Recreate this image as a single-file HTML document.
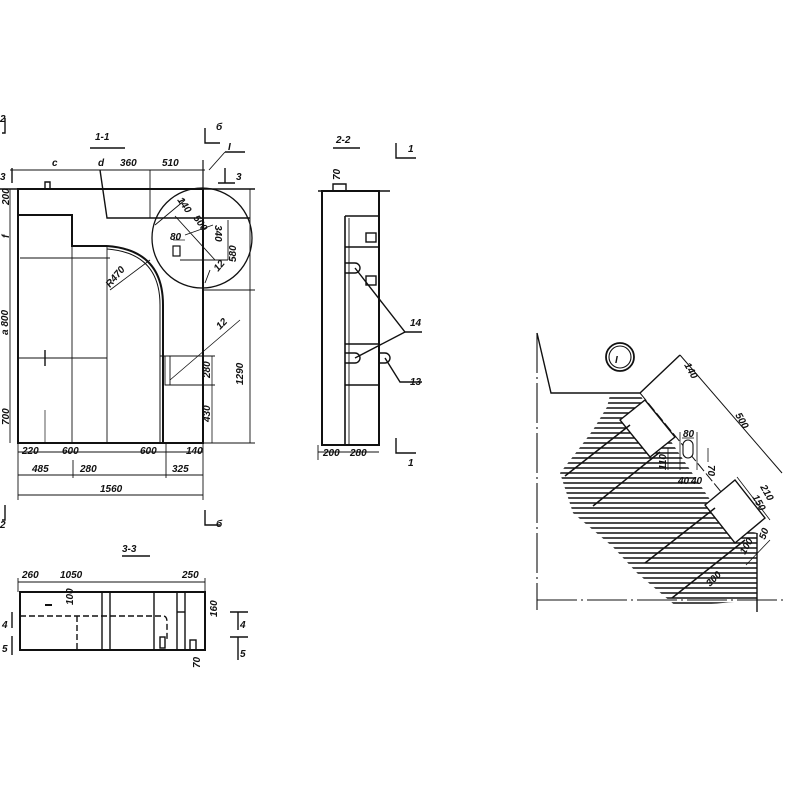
<!DOCTYPE html>
<html><head><meta charset="utf-8"><style>
html,body{margin:0;padding:0;background:#fff;width:800px;height:800px;overflow:hidden}
svg{display:block}
text{font-family:"Liberation Sans",sans-serif;font-style:italic;font-size:10px;fill:#111;font-weight:600}
</style></head><body>
<svg width="800" height="800" viewBox="0 0 800 800" xmlns="http://www.w3.org/2000/svg">
<defs>
<clipPath id="blob"><polygon points="610,395 640,395 727,525 757,533 757,600 677,607 637,573 613,547 573,513 560,473 578,450 593,430 607,407"/></clipPath>
</defs>
<g stroke="#111" fill="none" stroke-width="1.4">
<line x1="90" y1="148" x2="125" y2="148" stroke-width="1.5"/>
<rect x="18" y="189" width="185" height="254" stroke-width="2"/>
<polyline points="18,215 72,215 72,246 107,246" stroke-width="2"/>
<path d="M107,246 Q163,250 163,305 L163,443" stroke-width="2"/>
<path d="M107,249 Q160,253 160,305 L160,443" stroke-width="1"/>
<polyline points="100,170 107,218 250,218" stroke-width="1.4"/>
<line x1="0" y1="189" x2="255" y2="189"/>
<line x1="10" y1="170" x2="205" y2="170" stroke-width="0.9"/>
<line x1="107" y1="246" x2="107" y2="443" stroke-width="0.9"/>
<line x1="72" y1="246" x2="72" y2="443" stroke-width="0.9"/>
<line x1="150" y1="170" x2="150" y2="218" stroke-width="0.9"/>
<line x1="203" y1="160" x2="203" y2="443" stroke-width="1.2"/>
<line x1="20" y1="258" x2="110" y2="258" stroke-width="0.9"/>
<line x1="18" y1="358" x2="107" y2="358" stroke-width="0.9"/>
<line x1="45" y1="350" x2="45" y2="366"/>
<line x1="45" y1="410" x2="45" y2="443" stroke-width="0.7"/>
<line x1="160" y1="356" x2="215" y2="356" stroke-width="0.9"/>
<line x1="165" y1="385" x2="215" y2="385" stroke-width="0.9"/>
<rect x="165" y="356" width="5" height="29" stroke-width="0.9"/>
<line x1="170" y1="380" x2="240" y2="320" stroke-width="0.8"/>
<line x1="212" y1="356" x2="212" y2="443" stroke-width="0.8"/>
<line x1="110" y1="290" x2="150" y2="260" stroke-width="0.9"/>
<circle cx="202" cy="238" r="50" stroke-width="1.3"/>
<line x1="250" y1="189" x2="250" y2="443" stroke-width="0.9"/>
<line x1="203" y1="290" x2="255" y2="290" stroke-width="0.9"/>
<line x1="203" y1="443" x2="255" y2="443" stroke-width="0.9"/>
<line x1="175" y1="216" x2="215" y2="260" stroke-width="0.9"/>
<line x1="155" y1="225" x2="185" y2="200" stroke-width="0.9"/>
<line x1="180" y1="260" x2="228" y2="260" stroke-width="0.9"/>
<line x1="228" y1="220" x2="228" y2="260" stroke-width="0.9"/>
<rect x="173" y="246" width="7" height="10" stroke-width="1.2"/>
<line x1="173" y1="240" x2="185" y2="240" stroke-width="0.7"/>
<line x1="185" y1="235" x2="213" y2="225" stroke-width="0.7"/>
<line x1="210" y1="270" x2="205" y2="283" stroke-width="0.9"/>
<line x1="209" y1="170" x2="225" y2="152" stroke-width="0.9"/>
<line x1="225" y1="152" x2="245" y2="152" stroke-width="1.4"/>
<path d="M45,189 v-7 h5 v7" stroke-width="1.4"/>
<line x1="10" y1="189" x2="10" y2="443" stroke-width="0.9"/>
<line x1="18" y1="452" x2="203" y2="452" stroke-width="0.9"/>
<line x1="18" y1="475" x2="203" y2="475" stroke-width="0.9"/>
<line x1="18" y1="495" x2="203" y2="495" stroke-width="0.9"/>
<line x1="18" y1="443" x2="18" y2="500" stroke-width="0.9"/>
<line x1="203" y1="443" x2="203" y2="500" stroke-width="0.9"/>
<line x1="73" y1="460" x2="73" y2="478" stroke-width="0.9"/>
<line x1="166" y1="443" x2="166" y2="478" stroke-width="0.9"/>
<polyline points="5,118 5,133 2,133"/><polyline points="205,128 205,143 220,143"/>
<polyline points="205,510 205,525 220,525"/><polyline points="5,505 5,520 2,520"/>
<line x1="225" y1="168" x2="225" y2="183"/><line x1="218" y1="183" x2="235" y2="183"/>
<line x1="12" y1="168" x2="12" y2="183"/>
<line x1="333" y1="148" x2="360" y2="148" stroke-width="1.5"/>
<rect x="322" y="191" width="57" height="254" stroke-width="2"/>
<line x1="318" y1="191" x2="390" y2="191"/>
<line x1="345" y1="216" x2="345" y2="445" stroke-width="1.6"/>
<line x1="349" y1="218" x2="349" y2="445" stroke-width="0.9"/>
<line x1="345" y1="216" x2="379" y2="216"/>
<line x1="345" y1="247" x2="379" y2="247"/>
<line x1="345" y1="344" x2="379" y2="344"/>
<line x1="345" y1="385" x2="379" y2="385"/>
<path d="M333,191 v-7 h13 v7"/>
<rect x="366" y="233" width="10" height="9"/><rect x="366" y="276" width="10" height="9"/>
<path d="M345,263 h10 a5,5 0 0 1 0,10 h-10"/>
<path d="M345,353 h10 a5,5 0 0 1 0,10 h-10"/>
<path d="M379,353 h6 a5,5 0 0 1 0,10 h-6"/>
<polyline points="355,268 405,332 422,332"/><line x1="355" y1="358" x2="405" y2="332"/>
<polyline points="385,358 400,382 422,382"/>
<line x1="318" y1="452" x2="379" y2="452" stroke-width="0.9"/>
<line x1="318" y1="445" x2="318" y2="460" stroke-width="0.9"/>
<polyline points="396,143 396,158 416,158"/><polyline points="396,438 396,453 416,453"/>
<line x1="122" y1="556" x2="150" y2="556" stroke-width="1.5"/>
<rect x="20" y="592" width="185" height="58" stroke-width="2"/>
<line x1="102" y1="592" x2="102" y2="650"/><line x1="110" y1="592" x2="110" y2="650"/>
<line x1="154" y1="592" x2="154" y2="650"/><line x1="177" y1="592" x2="177" y2="650"/><line x1="185" y1="592" x2="185" y2="650"/>
<line x1="177" y1="612" x2="185" y2="612"/>
<path d="M20,616 H163 Q167,616 167,622 V640" stroke-dasharray="6,3"/>
<line x1="77" y1="616" x2="77" y2="650" stroke-dasharray="6,3"/>
<line x1="45" y1="605" x2="52" y2="605" stroke-width="2"/>
<rect x="160" y="637" width="5" height="11"/><rect x="190" y="640" width="6" height="10"/>
<line x1="18" y1="582" x2="205" y2="582" stroke-width="0.9"/>
<line x1="18" y1="578" x2="18" y2="592" stroke-width="0.9"/><line x1="205" y1="578" x2="205" y2="592" stroke-width="0.9"/>
<line x1="12" y1="612" x2="12" y2="628"/><line x1="12" y1="636" x2="12" y2="655"/>
<line x1="230" y1="612" x2="248" y2="612"/><line x1="238" y1="612" x2="238" y2="630"/>
<line x1="230" y1="637" x2="248" y2="637"/><line x1="238" y1="637" x2="238" y2="660"/>
<line x1="537" y1="333" x2="537" y2="610" stroke-dasharray="40,4,2,4" stroke-width="1.1"/>
<polyline points="537,333 551,393 640,393 680,355"/>
<line x1="537" y1="600" x2="785" y2="600" stroke-dasharray="40,4,2,4" stroke-width="1"/>
<line x1="757" y1="533" x2="757" y2="612"/>
<line x1="680" y1="355" x2="782" y2="473" stroke-width="1"/>
<line x1="640" y1="393" x2="740" y2="515" stroke-width="1" stroke-dasharray="10,3"/>
<circle cx="620" cy="357" r="14" stroke-width="1.8"/><circle cx="620" cy="357" r="11" stroke-width="1.1"/>
</g>
<g clip-path="url(#blob)" stroke="#111" stroke-width="1.4">
<line x1="540" y1="398" x2="780" y2="398"/><line x1="540" y1="403" x2="780" y2="403"/><line x1="540" y1="408" x2="780" y2="408"/><line x1="540" y1="413" x2="780" y2="413"/><line x1="540" y1="418" x2="780" y2="418"/><line x1="540" y1="423" x2="780" y2="423"/><line x1="540" y1="428" x2="780" y2="428"/><line x1="540" y1="433" x2="780" y2="433"/><line x1="540" y1="438" x2="780" y2="438"/><line x1="540" y1="443" x2="780" y2="443"/><line x1="540" y1="448" x2="780" y2="448"/><line x1="540" y1="453" x2="780" y2="453"/><line x1="540" y1="458" x2="780" y2="458"/><line x1="540" y1="463" x2="780" y2="463"/><line x1="540" y1="468" x2="780" y2="468"/><line x1="540" y1="473" x2="780" y2="473"/><line x1="540" y1="478" x2="780" y2="478"/><line x1="540" y1="483" x2="780" y2="483"/><line x1="540" y1="488" x2="780" y2="488"/><line x1="540" y1="493" x2="780" y2="493"/><line x1="540" y1="498" x2="780" y2="498"/><line x1="540" y1="503" x2="780" y2="503"/><line x1="540" y1="508" x2="780" y2="508"/><line x1="540" y1="513" x2="780" y2="513"/><line x1="540" y1="518" x2="780" y2="518"/><line x1="540" y1="523" x2="780" y2="523"/><line x1="540" y1="528" x2="780" y2="528"/><line x1="540" y1="533" x2="780" y2="533"/><line x1="540" y1="538" x2="780" y2="538"/><line x1="540" y1="543" x2="780" y2="543"/><line x1="540" y1="548" x2="780" y2="548"/><line x1="540" y1="553" x2="780" y2="553"/><line x1="540" y1="558" x2="780" y2="558"/><line x1="540" y1="563" x2="780" y2="563"/><line x1="540" y1="568" x2="780" y2="568"/><line x1="540" y1="573" x2="780" y2="573"/><line x1="540" y1="578" x2="780" y2="578"/><line x1="540" y1="583" x2="780" y2="583"/><line x1="540" y1="588" x2="780" y2="588"/><line x1="540" y1="593" x2="780" y2="593"/><line x1="540" y1="598" x2="780" y2="598"/><line x1="540" y1="603" x2="780" y2="603"/>
</g>
<g stroke="#111" fill="#fff" stroke-width="1.4">
<polygon points="620,420 645,400 675,437 650,457"/>
<polygon points="705,505 735,480 765,518 735,543"/>
<rect x="683" y="440" width="10" height="18" rx="5" stroke-width="1.1"/>
</g>
<g stroke="#111" fill="none" stroke-width="1.5">
<line x1="565" y1="476" x2="630" y2="425"/><line x1="593" y1="506" x2="660" y2="452"/>
<line x1="645" y1="563" x2="715" y2="508"/><line x1="672" y1="598" x2="745" y2="540"/>
<line x1="682" y1="438" x2="694" y2="438" stroke-width="0.8"/><line x1="680" y1="432" x2="680" y2="470" stroke-width="0.8"/><line x1="697" y1="432" x2="697" y2="470" stroke-width="0.8"/>
<line x1="668" y1="448" x2="668" y2="470" stroke-width="0.8"/><line x1="708" y1="448" x2="708" y2="462" stroke-width="0.8"/>
<line x1="737" y1="477" x2="770" y2="520" stroke-width="0.8"/><line x1="746" y1="565" x2="770" y2="540" stroke-width="0.8"/>
</g>
<g>
<text x="95" y="140" font-size="13">1-1</text>
<text x="216" y="130" font-size="11">б</text>
<text x="228" y="150" font-size="12">I</text>
<text x="236" y="180">3</text>
<text x="52" y="166">c</text>
<text x="98" y="166">d</text>
<text x="120" y="166">360</text>
<text x="162" y="166">510</text>
<text x="110" y="288" transform="rotate(-50 110 288)">R470</text>
<text x="170" y="240" font-size="8">80</text>
<text x="177" y="200" font-size="8" transform="rotate(55 177 200)">140</text>
<text x="193" y="218" font-size="8" transform="rotate(55 193 218)">500</text>
<text x="215" y="225" font-size="9" transform="rotate(90 215 225)">340</text>
<text x="236" y="262" font-size="10" transform="rotate(-90 236 262)">580</text>
<text x="218" y="272" font-size="8" transform="rotate(-50 218 272)">12</text>
<text x="220" y="330" font-size="8" transform="rotate(-45 220 330)">12</text>
<text x="210" y="378" font-size="8" transform="rotate(-90 210 378)">280</text>
<text x="210" y="422" font-size="8" transform="rotate(-90 210 422)">430</text>
<text x="243" y="385" font-size="11" transform="rotate(-90 243 385)">1290</text>
<text x="8" y="335" transform="rotate(-90 8 335)">a 800</text>
<text x="9" y="425" font-size="8" transform="rotate(-90 9 425)">700</text>
<text x="9" y="205" font-size="8" transform="rotate(-90 9 205)">200</text>
<text x="9" y="238" font-size="8" transform="rotate(-90 9 238)">f</text>
<text x="22" y="454">220</text><text x="62" y="454">600</text>
<text x="140" y="454">600</text><text x="186" y="454">140</text>
<text x="32" y="472">485</text><text x="80" y="472">280</text>
<text x="172" y="472">325</text><text x="100" y="492" font-size="11">1560</text>
<text x="0" y="180" font-size="9">3</text>
<text x="0" y="122" font-size="9">2</text>
<text x="0" y="528" font-size="9">2</text>
<text x="216" y="527" font-size="11">б</text>
<text x="336" y="143" font-size="13">2-2</text>
<text x="340" y="180" font-size="8" transform="rotate(-90 340 180)">70</text>
<text x="408" y="152" font-size="11">1</text>
<text x="408" y="466" font-size="11">1</text>
<text x="410" y="326">14</text><text x="410" y="385">13</text>
<text x="323" y="456" font-size="9">200</text><text x="350" y="456" font-size="9">280</text>
<text x="122" y="552" font-size="13">3-3</text>
<text x="22" y="578">260</text><text x="60" y="578">1050</text><text x="182" y="578">250</text>
<text x="73" y="605" font-size="8" transform="rotate(-90 73 605)">100</text>
<text x="217" y="617" font-size="8" transform="rotate(-90 217 617)">160</text>
<text x="200" y="668" font-size="8" transform="rotate(-90 200 668)">70</text>
<text x="2" y="628" font-size="10">4</text><text x="2" y="652" font-size="10">5</text>
<text x="240" y="628" font-size="10">4</text><text x="240" y="657" font-size="10">5</text>
<text x="615" y="363" font-size="15">I</text>
<text x="684" y="365" font-size="8" transform="rotate(60 684 365)">140</text>
<text x="735" y="415" font-size="9" transform="rotate(60 735 415)">500</text>
<text x="683" y="437" font-size="8">80</text>
<text x="666" y="470" font-size="8" transform="rotate(-90 666 470)">110</text>
<text x="708" y="465" font-size="8" transform="rotate(90 708 465)">70</text>
<text x="678" y="484" font-size="7">40</text><text x="691" y="484" font-size="7">40</text>
<text x="760" y="487" font-size="8" transform="rotate(60 760 487)">210</text>
<text x="752" y="497" font-size="8" transform="rotate(60 752 497)">150</text>
<text x="765" y="540" font-size="8" transform="rotate(-70 765 540)">50</text>
<text x="745" y="555" font-size="8" transform="rotate(-60 745 555)">100</text>
<text x="710" y="587" font-size="8" transform="rotate(-45 710 587)">300</text>
</g>
</svg>
</body></html>
